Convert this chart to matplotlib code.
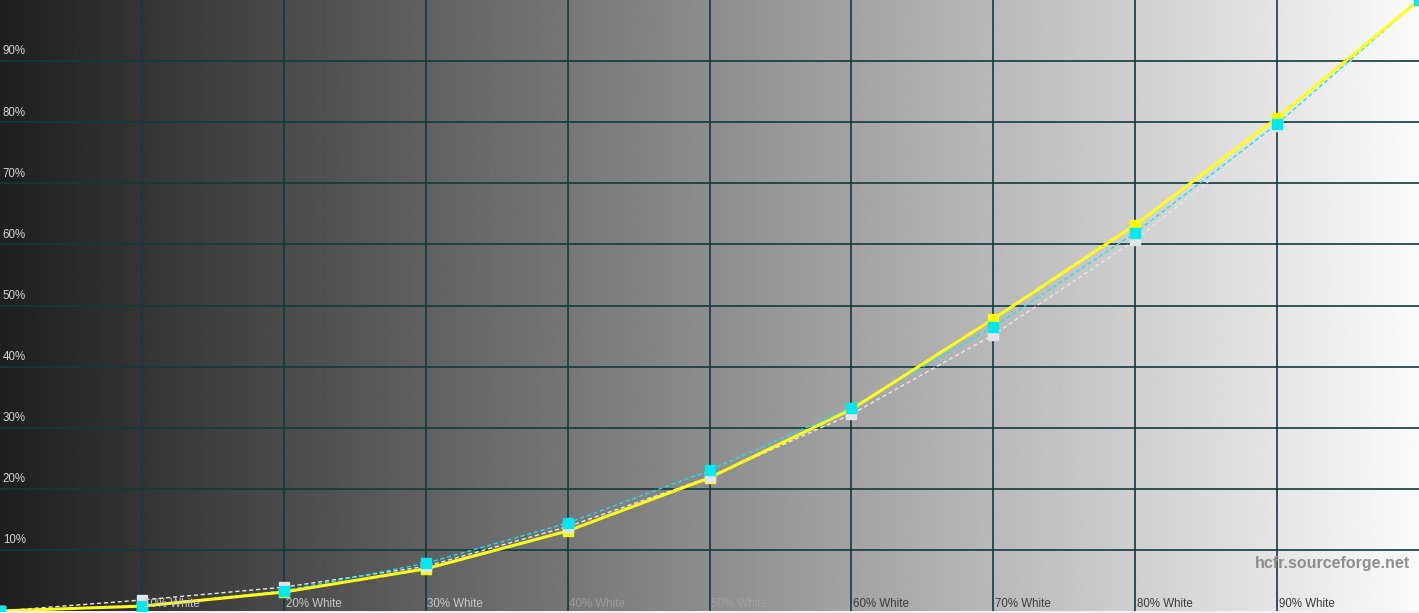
import numpy as np
import matplotlib.pyplot as plt

plt.rcParams['font.family'] = ['Liberation Sans', 'DejaVu Sans']

# grey levels (% white) and measured / reference luminance (%)
levels = [0, 10, 20, 30, 40, 50, 60, 70, 80, 90, 100]
measured = [0, 0.8, 3.1, 6.9, 13.1, 21.8, 33.0, 47.8, 63.2, 80.7, 100]   # yellow
reference = [0, 0.8, 3.3, 7.8, 14.4, 23.0, 33.3, 46.5, 61.9, 79.7, 100]  # cyan
gamma_ref = [0, 1.8, 3.9, 7.3, 13.8, 21.9, 32.2, 45.2, 60.7, 79.3, 100]  # white dashed

ytick_labels = ['10%', '20%', '30%', '40%', '50%', '60%', '70%', '80%', '90%']
xtick_labels = ['10% White', '20% White', '30% White', '40% White', '50% White',
                '60% White', '70% White', '80% White', '90% White']
xlabel_colors = ['#c8c8c8', '#c8c8c8', '#c8c8c8', '#9c9c9c', '#a0a0a0',
                 '#3c3c3c', '#3c3c3c', '#3c3c3c', '#3c3c3c']

fig = plt.figure(figsize=(14.19, 6.13), dpi=100, facecolor='#f2f2f2')
ax = fig.add_axes([0, 2 / 613, 1, 611 / 613])

# background gradient dark -> light
grad = np.linspace(0.12, 0.985, 512).reshape(1, -1)
ax.imshow(grad, extent=[0, 100, 0, 100], aspect='auto', cmap='gray',
          vmin=0, vmax=1, zorder=0, interpolation='bilinear')

gridc = '#123a3e'
for v in range(10, 100, 10):
    ax.axvline(v, color=gridc, lw=1.2, zorder=1)
    ax.axhline(v, color=gridc, lw=1.2, zorder=1)

# curves
ax.plot(levels, gamma_ref, color='#e8e8e8', lw=1, ls=(0, (3, 2)), zorder=2)
ax.plot(levels, reference, color='#20e0f0', lw=1, ls=(0, (3, 2)), zorder=2.5)
ax.plot(levels, measured, color='#ffff1a', lw=2.2, zorder=3)
ax.plot(levels, measured, ls='none', marker='s', ms=7.5, color='#ffff00', zorder=4)
ax.plot(levels, gamma_ref, ls='none', marker='s', ms=7.5, color='#e4e4e4', zorder=5)
ax.plot(levels, reference, ls='none', marker='s', ms=7.5, color='#00e8f0', zorder=6)

# labels
for i, lab in enumerate(ytick_labels):
    ax.text(0.2, (i + 1) * 10 + 0.6, lab, fontsize=8.3, color='#d4d4d4',
            va='bottom', ha='left', zorder=7)
for i, lab in enumerate(xtick_labels):
    ax.text((i + 1) * 10 + 0.12, 0.2, lab, fontsize=8.3, color=xlabel_colors[i],
            va='bottom', ha='left', zorder=7)

ax.text(99.4, 7.7, 'hcfr.sourceforge.net', fontsize=11.5, fontweight='bold',
        color='#8e8e8e', ha='right', va='center', zorder=7)

ax.set_xlim(0, 100)
ax.set_ylim(0, 100)
ax.axis('off')

fig.savefig('out.png', dpi=100, facecolor=fig.get_facecolor())
